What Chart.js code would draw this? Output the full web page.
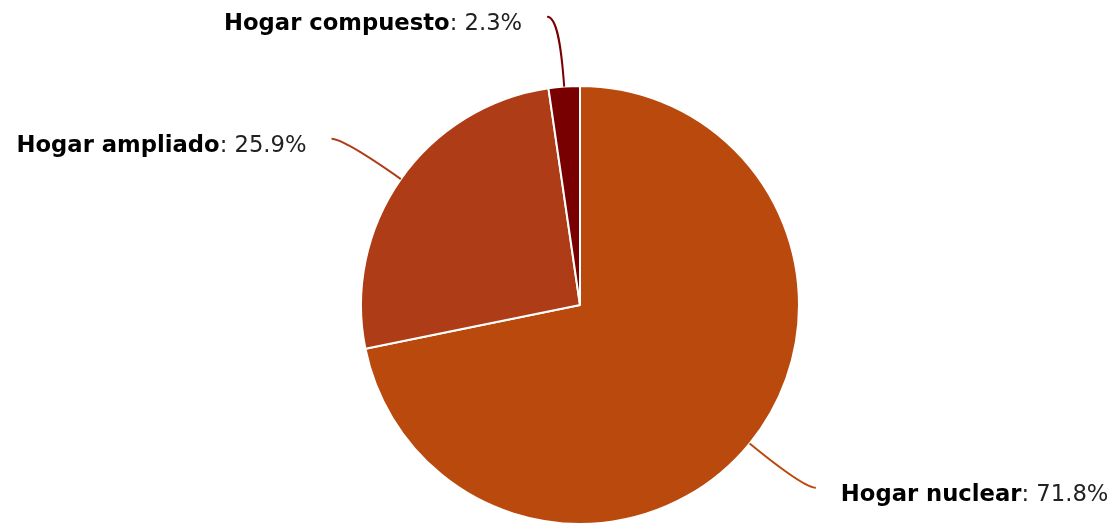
<!DOCTYPE html>
<html>
<head>
<meta charset="utf-8">
<script src="https://cdn.jsdelivr.net/npm/chart.js@4"></script>
<style>
  html, body { margin: 0; padding: 0; background: #fff; }
  #wrap { width: 1117px; height: 527px; }
</style>
</head>
<body>
<div id="wrap"><canvas id="grafico"></canvas></div>
<script>
// Datos del gráfico
const categorias = ["Hogar nuclear", "Hogar ampliado", "Hogar compuesto"];
const porcentajes = [71.8, 25.9, 2.3];
const colores = ["#BA490D", "#AE3C17", "#780000"];

// Plugin para dibujar etiquetas con conectores curvos (estilo Highcharts)
const etiquetasPlugin = {
  id: "etiquetas",
  afterDatasetsDraw(chart) {
    const c = chart.ctx;
    const meta = chart.getDatasetMeta(0);
    meta.data.forEach((arc, i) => {
      const { x, y, startAngle, endAngle, outerRadius } = arc.getProps(
        ["x", "y", "startAngle", "endAngle", "outerRadius"], true);
      const mid = (startAngle + endAngle) / 2;
      const cos = Math.cos(mid), sin = Math.sin(mid);
      const lado = cos >= 0 ? 1 : -1;
      // punto en el borde del sector
      const x0 = x + outerRadius * cos, y0 = y + outerRadius * sin;
      // extremo del conector
      const rr = outerRadius + 70;
      const x3 = x + rr * cos + lado * 12, y3 = y + rr * sin;
      const x1 = x + (outerRadius + 40) * cos, y1 = y + (outerRadius + 40) * sin;
      const x2 = x3 - lado * 10, y2 = y3;

      c.save();
      c.strokeStyle = colores[i];
      c.lineWidth = 2;
      c.beginPath();
      c.moveTo(x0, y0);
      c.bezierCurveTo(x1, y1, x2, y2, x3, y3);
      c.stroke();

      // texto: nombre en negrita + valor normal
      const nombre = categorias[i];
      const valor = ": " + porcentajes[i].toFixed(1) + "%";
      const fB = "bold 22.7px 'DejaVu Sans'";
      const fN = "22.7px 'DejaVu Sans'";
      c.font = fB; const wB = c.measureText(nombre).width;
      c.font = fN; const wN = c.measureText(valor).width;
      const gap = 25;
      let tx = lado > 0 ? x3 + gap : x3 - gap - wB - wN;
      c.textBaseline = "alphabetic";
      c.textAlign = "left";
      c.fillStyle = "#000";
      c.font = fB; c.fillText(nombre, tx, y3 + 13);
      c.fillStyle = "#222";
      c.font = fN; c.fillText(valor, tx + wB, y3 + 13);
      c.restore();
    });
  }
};

new Chart(document.getElementById("grafico"), {
  type: "pie",
  data: {
    labels: categorias,
    datasets: [{
      data: porcentajes,
      backgroundColor: colores,
      borderColor: "#ffffff",
      borderWidth: 2
    }]
  },
  options: {
    responsive: true,
    maintainAspectRatio: false,
    animation: false,
    layout: { padding: { top: 85, bottom: 2, left: 360, right: 317 } },
    plugins: {
      legend: { display: false },
      tooltip: { enabled: false }
    }
  },
  plugins: [etiquetasPlugin]
});
</script>
</body>
</html>
